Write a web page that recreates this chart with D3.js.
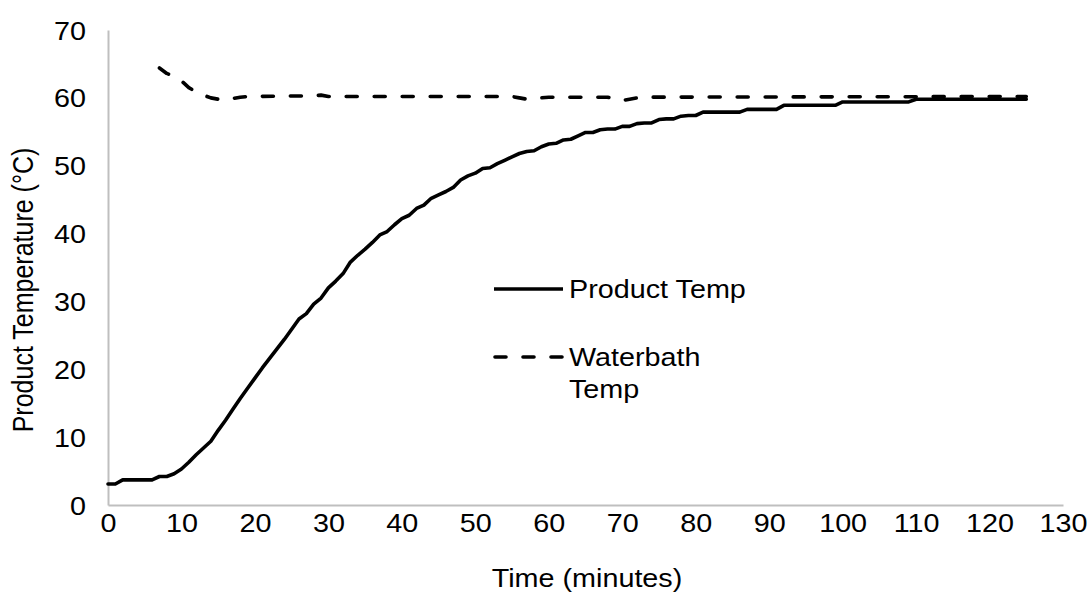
<!DOCTYPE html>
<html>
<head>
<meta charset="utf-8">
<script src="https://cdn.jsdelivr.net/npm/d3@7"></script>
<style>
  html, body { margin: 0; padding: 0; background: #fff; }
  svg { display: block; font-family: "Liberation Sans", Arial, sans-serif; }
</style>
</head>
<body>
<svg id="chart" width="1092" height="594"></svg>
<script>
// Product core temperature readings (minutes, °C)
const productTime = [0,1,2,3,4,5,6,7,8,9,10,11,12,13,14,15,16,17,18,19,20,21,22,23,24,25,26,27,28,29,30,
  31,32,33,34,35,36,37,38,39,40,41,42,43,44,45,46,47,48,49,50,51,52,53,54,55,56,57,58,59,60,
  61,62,63,64,65,66,67,68,69,70,71,72,73,74,75,76,77,78,79,80,81,86,87,91,92,99,100,109,110,125];
const productTemp = [3.1,3.1,3.7,3.7,3.7,3.7,3.7,4.2,4.2,4.6,5.3,6.3,7.4,8.4,9.4,11.0,12.5,14.1,15.7,17.2,18.7,
  20.2,21.6,23.0,24.4,25.9,27.4,28.2,29.6,30.5,32.0,
  33.0,34.1,35.8,36.8,37.7,38.7,39.8,40.3,41.3,42.2,42.7,43.7,44.2,45.2,45.7,46.2,46.8,47.9,48.5,48.9,
  49.6,49.7,50.3,50.8,51.3,51.8,52.1,52.2,52.8,53.2,53.3,53.8,53.9,54.4,54.9,54.9,55.3,55.4,55.4,55.8,
  55.8,56.2,56.3,56.3,56.8,56.9,56.9,57.3,57.4,57.4,57.9,57.9,58.3,58.3,58.9,58.9,59.4,59.4,59.8,59.8];

// Water bath temperature readings (minutes, °C)
const waterTime = [7,8,9,10,11,12,13,14,15,16,17,18,19,28,29,30,55,56,57,58,59,60,68,69,70,71,72,73,125];
const waterTemp = [64.4,63.6,63.2,62.5,61.5,60.9,60.4,60.0,59.8,59.7,59.9,60.1,60.2,60.3,60.4,60.2,60.2,
  60.0,59.8,59.9,60.0,60.1,60.1,59.8,59.6,59.8,60.0,60.1,60.2];

// Axis ticks
const xTicks = [0,10,20,30,40,50,60,70,80,90,100,110,120,130];
const yTicks = [0,10,20,30,40,50,60,70];

const seriesNames = ["Product Temp", ["Waterbath", "Temp"]];
const xTitle = "Time (minutes)";
const yTitle = "Product Temperature (°C)";

const svg = d3.select("#chart");

const x = d3.scaleLinear().domain([0, 130]).range([108, 1063]);
const y = d3.scaleLinear().domain([0, 70]).range([505, 30]);

const axisColor = "#bfbfbf";
const fontSize = 25;
const wide = 1.15;   // glyphs are drawn slightly wider than tall

// Axes: lines only, labels without tick marks
const xAxis = svg.append("g")
  .attr("transform", `translate(0,${y(0)})`)
  .call(d3.axisBottom(x).tickValues(xTicks).tickSize(0).tickFormat(d3.format("d")));
xAxis.select(".domain").attr("stroke", axisColor).attr("stroke-width", 2);
xAxis.selectAll(".tick text")
  .attr("x", 0).attr("y", 0).attr("dy", null)
  .attr("transform", `translate(0,27) scale(${wide},1)`)
  .attr("font-size", fontSize).attr("fill", "#000")
  .attr("font-family", "Liberation Sans, Arial, sans-serif");

const yAxis = svg.append("g")
  .attr("transform", `translate(${x(0)},0)`)
  .call(d3.axisLeft(y).tickValues(yTicks).tickSize(0).tickFormat(d3.format("d")));
yAxis.select(".domain").attr("stroke", axisColor).attr("stroke-width", 2);
yAxis.selectAll(".tick text")
  .attr("x", 0).attr("y", 0).attr("dy", null)
  .attr("transform", `translate(-22,9) scale(${wide},1)`)
  .attr("font-size", fontSize).attr("fill", "#000")
  .attr("font-family", "Liberation Sans, Arial, sans-serif");

// Axis titles
svg.append("text")
  .attr("transform", `translate(587,587) scale(${wide},1)`)
  .attr("text-anchor", "middle")
  .attr("font-size", fontSize).attr("fill", "#000")
  .text(xTitle);

svg.append("text")
  .attr("transform", `translate(33,290) rotate(-90) scale(1,${wide})`)
  .attr("text-anchor", "middle")
  .attr("font-size", fontSize).attr("fill", "#000")
  .text(yTitle);

// Series lines
const line = d3.line().x(d => x(d[0])).y(d => y(d[1]));

const productData = productTime.map((t, i) => [t, productTemp[i]]);
const waterData = waterTime.map((t, i) => [t, waterTemp[i]]);

svg.append("path")
  .datum(waterData)
  .attr("d", line)
  .attr("fill", "none")
  .attr("stroke", "#000")
  .attr("stroke-width", 3.6)
  .attr("stroke-dasharray", "11,17")
  .attr("stroke-linecap", "round")
  .attr("stroke-linejoin", "round");

svg.append("path")
  .datum(productData)
  .attr("d", line)
  .attr("fill", "none")
  .attr("stroke", "#000")
  .attr("stroke-width", 3.6)
  .attr("stroke-linejoin", "round")
  .attr("stroke-linecap", "round");

// Legend
const legend = svg.append("g");
legend.append("line")
  .attr("x1", 494).attr("x2", 563).attr("y1", 289).attr("y2", 289)
  .attr("stroke", "#000").attr("stroke-width", 3.6);
legend.append("text")
  .attr("transform", `translate(569,298) scale(${wide},1)`)
  .attr("font-size", fontSize).attr("fill", "#000")
  .text(seriesNames[0]);

legend.append("line")
  .attr("x1", 495).attr("x2", 562).attr("y1", 357).attr("y2", 357)
  .attr("stroke", "#000").attr("stroke-width", 3.6)
  .attr("stroke-dasharray", "11,17").attr("stroke-linecap", "round");
legend.append("text")
  .attr("transform", `translate(569,366) scale(${wide},1)`)
  .attr("font-size", fontSize).attr("fill", "#000")
  .selectAll("tspan")
  .data(seriesNames[1])
  .join("tspan")
  .attr("x", 0)
  .attr("dy", (d, i) => i === 0 ? 0 : 32)
  .text(d => d);
</script>
</body>
</html>
